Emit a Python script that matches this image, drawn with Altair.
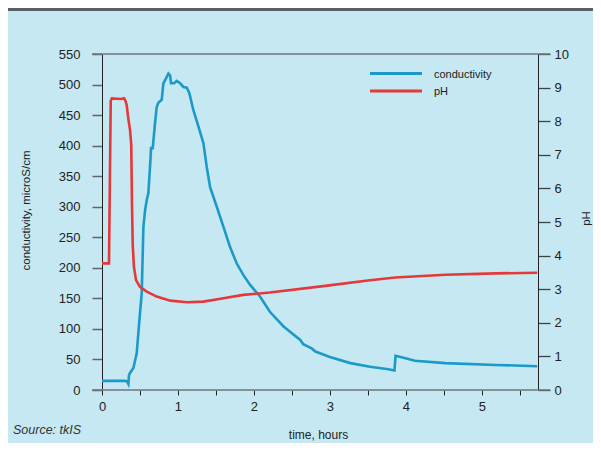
import altair as alt
import pandas as pd

# ---- data ----
cond_time = [0, 0.1, 0.2, 0.3, 0.33, 0.347, 0.355, 0.369, 0.413, 0.457, 0.50, 0.523, 0.545,
             0.567, 0.589, 0.61, 0.632, 0.646, 0.668, 0.698, 0.72, 0.742, 0.786, 0.808, 0.843,
             0.874, 0.896, 0.909, 0.949, 0.984, 1.028, 1.072, 1.116, 1.15, 1.203, 1.27, 1.335,
             1.379, 1.423, 1.511, 1.599, 1.686, 1.774, 1.862, 1.95, 2.08, 2.21, 2.39, 2.61,
             2.65, 2.76, 2.81, 3.0, 3.27, 3.53, 3.77, 3.85, 3.865, 3.93, 4.12, 4.52, 5.18, 5.73]
cond_vals = [15, 15, 15, 15, 14, 10, 24, 28, 36, 60, 126, 158, 267,
             294, 311, 322, 365, 396, 396, 437, 463, 470, 475, 502, 510,
             518, 515, 502, 502, 506, 502, 496, 495, 486, 458, 431, 404,
             365, 332, 300, 267, 234, 207, 188, 172, 153, 128, 104, 82,
             75, 68, 63, 54, 44, 38, 34, 32, 56, 54, 48, 44, 41, 39]

ph_time = [0, 0.092, 0.115, 0.13, 0.25, 0.29, 0.31, 0.325, 0.345, 0.369, 0.385, 0.395, 0.405,
           0.42, 0.448, 0.5, 0.589, 0.72, 0.9, 1.116, 1.335, 1.6, 1.86, 2.21, 2.94, 3.5,
           3.86, 4.52, 5.18, 5.73]
ph_vals = [3.77, 3.77, 8.6, 8.68, 8.66, 8.68, 8.6, 8.48, 8.1, 7.74, 7.3, 5.5, 4.3,
           3.67, 3.27, 3.07, 2.93, 2.78, 2.66, 2.61, 2.63, 2.73, 2.83, 2.9, 3.1, 3.26,
           3.35, 3.43, 3.47, 3.49]

x_ticks = [0, 0.5, 1, 1.5, 2, 2.5, 3, 3.5, 4, 4.5, 5, 5.5]
cond_ticks = [0, 50, 100, 150, 200, 250, 300, 350, 400, 450, 500, 550]
ph_ticks = [0, 1, 2, 3, 4, 5, 6, 7, 8, 9, 10]
series = ["conductivity", "pH"]
colors = ["#1b9ac8", "#e5383b"]

# ---- styling ----
FONT = "Liberation Sans"
BG = "#c5e8f3"
W, H = 436, 336
INK = "#222222"

cond_df = pd.DataFrame({"t": cond_time, "cond": cond_vals})
ph_df = pd.DataFrame({"t": ph_time, "ph": ph_vals})
dummy = pd.DataFrame({"a": [0]})

x_enc = alt.X(
    "t:Q",
    scale=alt.Scale(domain=[0, 5.74], nice=False, zero=False),
    axis=alt.Axis(
        values=x_ticks,
        labelExpr="datum.value % 1 == 0 ? format(datum.value, 'd') : ''",
        labelFlush=False, labelOverlap=False,
        title="time, hours",
        domain=False, grid=False,
        tickSize=5, tickColor=INK, tickWidth=1,
        labelPadding=5, labelFontSize=13, labelColor=INK, labelFont=FONT,
        titleFontSize=12, titleFont=FONT, titleColor=INK, titleFontWeight="normal",
        titleX=W / 2 - 2, titleY=44, titleBaseline="middle",
    ),
)

cond_line = alt.Chart(cond_df).mark_line(color=colors[0], strokeWidth=2.6).encode(
    x=x_enc,
    y=alt.Y(
        "cond:Q",
        scale=alt.Scale(domain=[0, 550], nice=False),
        axis=alt.Axis(
            orient="left", values=cond_ticks, grid=False,
            title="conductivity, microS/cm",
            domain=True, domainColor=INK, domainWidth=1,
            tickSize=10, tickColor="#5d676c", tickWidth=1.5,
            labelPadding=12, labelFontSize=13, labelColor=INK, labelFont=FONT,
            labelFlush=False, labelOverlap=False,
            titleFontSize=11.5, titleFont=FONT, titleColor=INK, titleFontWeight="normal",
            titleX=-76, titleY=156, titleAngle=270, titleAlign="center", titleBaseline="middle",
        ),
    ),
)

ph_line = alt.Chart(ph_df).mark_line(color=colors[1], strokeWidth=2.6).encode(
    x=x_enc,
    y=alt.Y(
        "ph:Q",
        scale=alt.Scale(domain=[0, 10], nice=False),
        axis=alt.Axis(
            orient="right", values=ph_ticks, grid=False,
            title="pH",
            domain=True, domainColor=INK, domainWidth=1,
            tickSize=12, tickColor="#3d4448", tickWidth=1.3,
            labelPadding=4, labelFontSize=13, labelColor=INK, labelFont=FONT,
            labelFlush=False, labelOverlap=False,
            titleFontSize=11.5, titleFont=FONT, titleColor=INK, titleFontWeight="normal",
            titleX=48, titleY=164, titleAngle=270, titleAlign="center", titleBaseline="middle",
        ),
    ),
)

# frame lines at top and bottom of the plot
top_rule = alt.Chart(dummy).mark_rule(color="#6b777c", strokeWidth=1.6).encode(
    x=alt.value(-10), x2=alt.value(W + 12), y=alt.value(0))
bottom_rule = alt.Chart(dummy).mark_rule(color="#6b777c", strokeWidth=1.6).encode(
    x=alt.value(-10), x2=alt.value(W + 12), y=alt.value(H))

# header band
header = alt.Chart(dummy).mark_rect(color="#5b5f64").encode(
    x=alt.value(-94), x2=alt.value(W + 55), y=alt.value(-46), y2=alt.value(-43))

# legend
legend_layers = []
for i, (s, c) in enumerate(zip(series, colors)):
    ldf = pd.DataFrame({"s": [s]})
    yy = 19.5 + 17.5 * i
    legend_layers.append(
        alt.Chart(ldf).mark_rule(color=c, strokeWidth=2.8).encode(
            x=alt.value(268), x2=alt.value(320), y=alt.value(yy)))
    legend_layers.append(
        alt.Chart(ldf).mark_text(align="left", baseline="middle", font=FONT,
                                 fontSize=11, color=INK).encode(
            x=alt.value(332), y=alt.value(yy + 1), text="s:N"))

source = alt.Chart(pd.DataFrame({"s": ["Source: tkIS"]})).mark_text(
    align="left", baseline="middle", font=FONT, fontSize=12.5, fontStyle="italic",
    color="#333333").encode(x=alt.value(-89), y=alt.value(375.5), text="s:N")

chart = alt.layer(
    header, top_rule, bottom_rule, cond_line, ph_line, source, *legend_layers
).resolve_scale(y="independent").properties(
    width=W, height=H,
    background=BG,
    autosize=alt.AutoSizeParams(type="none"),
    padding={"left": 94, "top": 46, "right": 55, "bottom": 53},
).configure_view(stroke=None)

chart.save("out.html", embed_options={"renderer": "svg", "actions": False})
